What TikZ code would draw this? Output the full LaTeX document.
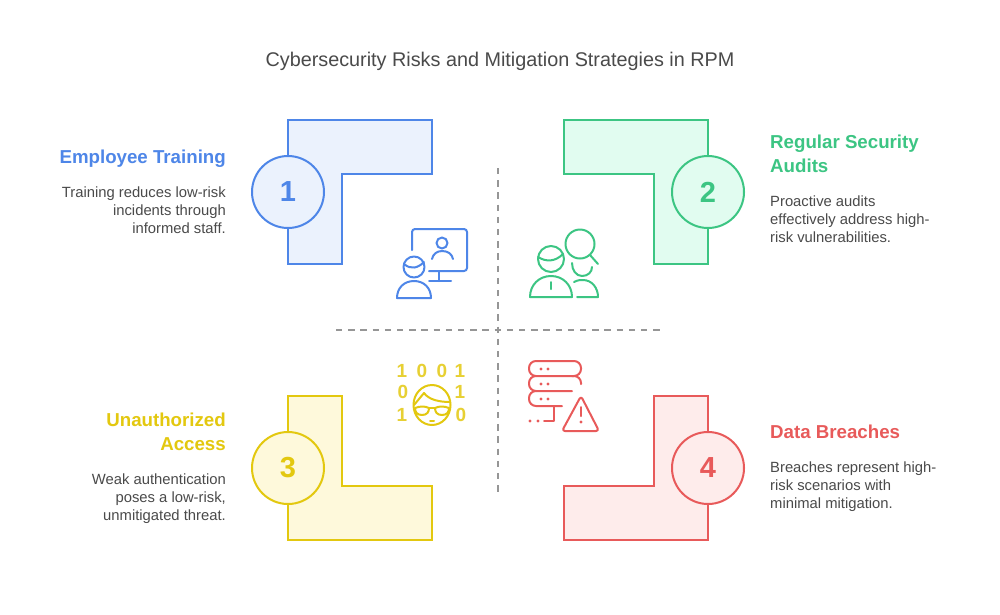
\documentclass[tikz,border=0pt]{standalone}
\usepackage{fontspec}
\setmainfont{Liberation Sans}
\usepackage{tikz}
\usetikzlibrary{positioning}
\usepackage{xcolor}
\definecolor{trainblue}{RGB}{78,134,232}
\definecolor{trainfill}{RGB}{235,242,253}
\definecolor{auditgreen}{RGB}{60,197,131}
\definecolor{auditfill}{RGB}{225,252,240}
\definecolor{accessyellow}{RGB}{227,200,15}
\definecolor{accessfill}{RGB}{254,249,219}
\definecolor{breachred}{RGB}{232,90,90}
\definecolor{breachfill}{RGB}{254,236,235}
\definecolor{bodygray}{RGB}{74,74,74}
\definecolor{dividergray}{RGB}{150,150,150}
\tikzset{
  headleft/.style={anchor=north east,align=right,font=\fontsize{18.7}{24}\selectfont\bfseries,inner sep=0pt},
  headright/.style={anchor=north west,align=left,font=\fontsize{18.7}{24}\selectfont\bfseries,inner sep=0pt},
  bodyleft/.style={anchor=north east,align=right,text=bodygray,font=\fontsize{14.8}{18}\selectfont,inner sep=0pt},
  bodyright/.style={anchor=north west,align=left,text=bodygray,font=\fontsize{14.8}{18}\selectfont,inner sep=0pt},
  numcircle/.style={circle,minimum size=72pt,inner sep=0pt,line width=2pt,font=\fontsize{29}{29}\selectfont\bfseries},
  corner/.style={line width=2pt,line join=miter},
  icon/.style={line width=2pt,line cap=round,line join=round},
  bitlabel/.style={font=\fontsize{19}{19}\selectfont\bfseries,text=accessyellow!85,inner sep=0pt},
  dividerline/.style={dividergray,line width=2pt,dash pattern=on 6.4pt off 5.8pt}
}
\begin{document}
\begin{tikzpicture}[x=1pt,y=-1pt]
        \useasboundingbox (0,0) rectangle (1000,614);
        \fill[white] (0,0) rectangle (1000,614);
        \node[text=bodygray,font=\fontsize{19.8}{20}\selectfont] (title) at (500,61.5) {Cybersecurity Risks and Mitigation Strategies in RPM};
        % dividers
        \coordinate (hleft) at (336,330);
        \coordinate (hright) at (660,330);
        \coordinate (vtop) at (498,168);
        \coordinate (vbottom) at (498,492);
        \draw[dividerline] (hleft) -- (hright);
        \draw[dividerline] (vtop) -- (vbottom);
        % corner shapes
        \draw[corner,draw=trainblue,fill=trainfill] (288,120) -- (432,120) -- (432,174) -- (342,174) -- (342,264) -- (288,264) -- cycle;
        \draw[corner,draw=auditgreen,fill=auditfill] (564,120) -- (708,120) -- (708,264) -- (654,264) -- (654,174) -- (564,174) -- cycle;
        \draw[corner,draw=accessyellow,fill=accessfill] (288,396) -- (342,396) -- (342,486) -- (432,486) -- (432,540) -- (288,540) -- cycle;
        \draw[corner,draw=breachred,fill=breachfill] (654,396) -- (708,396) -- (708,540) -- (564,540) -- (564,486) -- (654,486) -- cycle;
        \foreach \name/\cx/\cy/\col/\bg/\l in {one/288/192/trainblue/trainfill/1,two/708/192/auditgreen/auditfill/2,three/288/468/accessyellow/accessfill/3,four/708/468/breachred/breachfill/4}
          \node[numcircle,draw=\col,fill=\bg,text=\col] (\name) at (\cx,\cy) {\l};
        % text blocks
        \node[headleft,text=trainblue] (traininghead) at (226,150) {Employee Training};
        \node[bodyleft] (trainingbody) at (226,186.5) {Training reduces low-risk\\incidents through\\informed staff.};
        \node[headright,text=auditgreen] (audithead) at (770,135) {Regular Security\\Audits};
        \node[bodyright] (auditbody) at (770,195.5) {Proactive audits\\effectively address high-\\risk vulnerabilities.};
        \node[headleft,text=accessyellow] (accesshead) at (226,413) {Unauthorized\\Access};
        \node[bodyleft] (accessbody) at (226,473.5) {Weak authentication\\poses a low-risk,\\unmitigated threat.};
        \node[headright,text=breachred] (breachhead) at (770,425) {Data Breaches};
        \node[bodyright] (breachbody) at (770,461.5) {Breaches represent high-\\risk scenarios with\\minimal mitigation.};
        % training icon
        \begin{scope}[icon,draw=trainblue]
          \draw[rounded corners=3pt] (412,250) -- (412,229) -- (467,229) -- (467,271) -- (429,271);
          \draw (439,271) -- (439,281);
          \draw (429,281) -- (451,281);
          \draw (442,243) circle (5.5);
          \draw (432,259) .. controls (433,254) and (437,251) .. (442,251) .. controls (448,251) and (452,254) .. (453,259);
          \draw (414,267) circle (10.5);
          \draw (404,264) .. controls (411,270) and (418,268) .. (424,262);
          \draw (397,298) .. controls (397,288) and (404,281) .. (414,281) .. controls (424,281) and (431,288) .. (431,298) -- cycle;
        \end{scope}
        % audit icon
        \begin{scope}[icon,draw=auditgreen]
          \draw (580,244) circle (14.5);
          \draw (590,255) -- (598,264);
          \draw (551,259) circle (13);
          \draw (538,257) .. controls (546,262) and (555,262) .. (563,254);
          \draw (530,297) .. controls (530,285) and (539,276) .. (551,276) .. controls (563,276) and (572,285) .. (572,297) -- cycle;
          \draw (551,282) -- (551,289);
          \draw (572,263) .. controls (572,270) and (576,276) .. (582,276) .. controls (588,276) and (592,272) .. (592,267);
          \draw (574,282) .. controls (578,280) and (580,280) .. (583,280) .. controls (592,280) and (598,288) .. (598,297) -- (577,297);
        \end{scope}
        % access icon
        \foreach \name/\bx/\by/\l in {bita/402/371/1,bitb/422/371/0,bitc/442/371/0,bitd/460/371/1,bite/403/392/0,bitf/460/392/1,bitg/402/415/1,bith/461/415/0}
          \node[bitlabel] (\name) at (\bx,\by) {\l};
        \begin{scope}[icon,draw=accessyellow]
          \draw (432,405) ellipse (18.5 and 20);
          \draw (414,405) -- (424,393) .. controls (429,400) and (440,402) .. (450,402);
          \draw (415,408) .. controls (420,406) and (425,406) .. (429,408) .. controls (429,412) and (427,415) .. (422,415) .. controls (417,415) and (415,412) .. (415,408);
          \draw (435,408) .. controls (439,406) and (444,406) .. (449,408) .. controls (449,412) and (447,415) .. (442,415) .. controls (437,415) and (435,412) .. (435,408);
          \draw (429,408) -- (435,408);
          \draw (430,421) -- (434,421);
        \end{scope}
        % breach icon
        \begin{scope}[icon,draw=breachred]
          \draw[rounded corners=7pt] (550,361) -- (581,361) -- (581,376) -- (529,376) -- (529,361) -- cycle;
          \draw[rounded corners=7pt] (536,376) -- (529,376) -- (529,391) -- (572,391);
          \draw[rounded corners=7pt] (572,376) -- (581,376) -- (581,384);
          \draw[rounded corners=7pt] (536,391) -- (529,391) -- (529,406) -- (562,406);
          \draw (554,406) -- (554,421) -- (544,421);
          \draw[rounded corners=3pt] (581,396) -- (599,431) -- (562,431) -- cycle;
          \draw (581,407) -- (581,416);
          \fill[breachred] (581,422) circle (1.6);
          \foreach \dx/\dy in {541/369,548/369,541/384,548/384,541/399,548/399,530/421,538/421}
            \fill[breachred] (\dx,\dy) circle (1.6);
        \end{scope}
      \end{tikzpicture}
\end{document}
